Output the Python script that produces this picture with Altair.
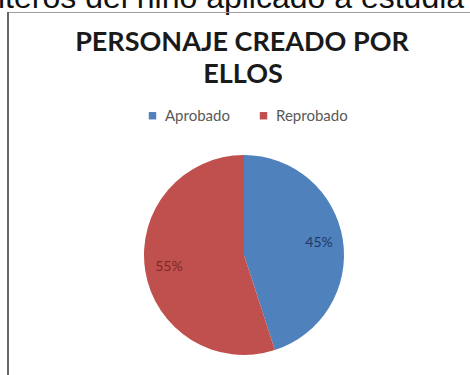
import altair as alt
import pandas as pd

categories = ["Aprobado", "Reprobado"]
values = [45, 55]
labels = ["45%", "55%"]
colors = ["#4F81BD", "#C0504D"]
label_colors = ["#1F3864", "#7A2A28"]
title_lines = ["PERSONAJE CREADO POR", "ELLOS"]
cut_text = "iteros del niño aplicado a estudia"

df = pd.DataFrame({"cat": categories, "value": values, "label": labels,
                   "lc": label_colors, "idx": [0, 1]})

W, H = 470, 375
CX, CY, R = 244, 255, 100

base = alt.Chart(df)

pie = base.mark_arc(radius=R, strokeWidth=0).encode(
    theta=alt.Theta("value:Q", stack=True),
    color=alt.Color("cat:N", scale=alt.Scale(domain=categories, range=colors),
                    legend=alt.Legend(orient="none", legendX=145, legendY=108,
                                      direction="horizontal", title=None,
                                      symbolType="square", symbolSize=55,
                                      symbolStrokeWidth=0,
                                      labelFont="Lato", labelFontSize=15,
                                      labelColor="#595959", columnPadding=26,
                                      labelOffset=5)),
    order=alt.Order("idx:Q"),
    x=alt.value(CX), y=alt.value(CY),
)

txt = base.mark_text(radius=76, font="Lato", fontSize=14).encode(
    theta=alt.Theta("value:Q", stack=True),
    order=alt.Order("idx:Q"),
    text="label:N",
    color=alt.Color("lc:N", scale=None),
    x=alt.value(CX), y=alt.value(CY),
)

t1 = alt.Chart(pd.DataFrame({"t": [title_lines[0]]})).mark_text(
    font="Lato", fontWeight="bold", fontSize=27, color="#1a1a1a", baseline="alphabetic"
).encode(text="t:N", x=alt.value(242), y=alt.value(51))
t2 = alt.Chart(pd.DataFrame({"t": [title_lines[1]]})).mark_text(
    font="Lato", fontWeight="bold", fontSize=27, color="#1a1a1a", baseline="alphabetic"
).encode(text="t:N", x=alt.value(243), y=alt.value(83))

top = alt.Chart(pd.DataFrame({"t": [cut_text]})).mark_text(
    font="Liberation Sans", fontSize=32, color="#111111", align="left", baseline="alphabetic"
).encode(text="t:N", x=alt.value(-2), y=alt.value(8))

border_left = alt.Chart(pd.DataFrame({"a": [0]})).mark_rule(color="#666666", strokeWidth=2).encode(
    x=alt.value(8), y=alt.value(12), y2=alt.value(H))
border_top = alt.Chart(pd.DataFrame({"a": [0]})).mark_rule(color="#a0a0a0", strokeWidth=1).encode(
    x=alt.value(8), x2=alt.value(W), y=alt.value(12.5))

chart = alt.layer(top, border_top, border_left, t1, t2, pie, txt).properties(
    width=W, height=H, autosize=alt.AutoSizeParams(type="none"), padding=0,
    background="#ffffff"
).configure_view(stroke=None)

chart.save("out.html", embed_options={"renderer": "svg", "actions": False})
